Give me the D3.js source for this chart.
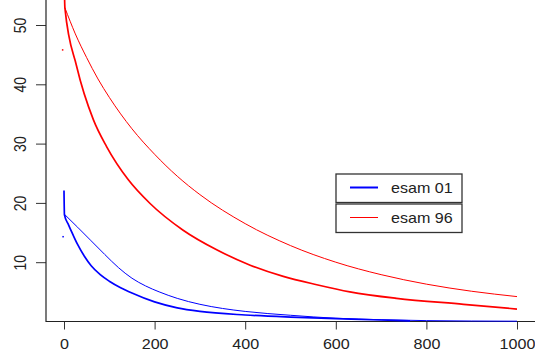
<!DOCTYPE html>
<html>
<head>
<meta charset="utf-8">
<script src="https://cdn.jsdelivr.net/npm/d3@7"></script>
<style>
  body { margin: 0; background: #fff; }
  text { font-family: "Liberation Sans", Arial, sans-serif; fill: #222; }
</style>
</head>
<body>
<div id="chart"></div>
<script>
// values
const xTicks = [0, 200, 400, 600, 800, 1000];
const yTicks = [10, 20, 30, 40, 50];

// esam 96 (red)
const redThickX = [0, 2, 28, 65, 94, 142, 190, 263, 337, 411, 484, 558, 631, 734, 882, 1000];
const redThickY = [60, 52.9, 43.0, 34.0, 29.5, 23.9, 19.9, 15.4, 12.1, 9.5, 7.6, 6.2, 5.0, 3.9, 2.9, 2.1];
const redThinX = [2, 25, 50, 75, 100, 150, 200, 250, 300, 400, 500, 600, 700, 800, 900, 1000];
const redThinY = [52.9, 48.5, 44.5, 40.9, 37.8, 32.5, 28.2, 24.5, 21.4, 16.5, 12.8, 10.0, 7.9, 6.3, 5.1, 4.2];

// esam 01 (blue)
const blueThickX = [0, 1, 10, 20, 30, 45, 60, 80, 100, 125, 150, 200, 250, 300, 400, 500, 600, 700, 764];
const blueThickY = [22.1, 18.0, 16.3, 14.6, 13.0, 11.0, 9.4, 7.9, 6.8, 5.7, 4.8, 3.3, 2.3, 1.7, 1.1, 0.75, 0.5, 0.25, 0.1];
const blueThinX = [2, 30, 60, 90, 120, 150, 180, 210, 250, 300, 350, 400, 500, 600, 700, 800, 1000];
const blueThinY = [18.0, 15.9, 13.6, 11.3, 9.1, 7.3, 6.0, 5.0, 3.9, 2.9, 2.2, 1.7, 1.05, 0.55, 0.3, 0.15, 0.05];

// stray single points near x = 0
const dotX = [-3, -2];
const dotY = [45.8, 14.3];
const dotColor = ["#ff0000", "#0000ff"];

const legendNames = ["esam 01", "esam 96"];
const legendColors = ["#0000ff", "#ff0000"];
const legendWidths = [2, 1];

const width = 535, height = 362;
const stretch = "scale(1.15,1)"; // text in the picture is a bit wide

const svg = d3.select("#chart").append("svg")
    .attr("width", width)
    .attr("height", height);

const x = d3.scaleLinear().domain([0, 1000]).range([64, 517]);
const y = d3.scaleLinear().domain([0, 50]).range([321.5, 25]);

// x axis ticks + labels
const gx = svg.append("g")
    .attr("transform", "translate(0,321.5)")
    .call(d3.axisBottom(x).tickValues(xTicks).tickSize(8).tickFormat(d3.format("d")));
gx.select(".domain").remove();
gx.selectAll("line").attr("stroke", "#333");
gx.selectAll("text")
    .attr("y", 0).attr("dy", 0)
    .attr("transform", "translate(0,27) " + stretch)
    .style("font-size", "14px");

// y axis ticks + rotated labels
const gy = svg.append("g")
    .attr("transform", "translate(46,0)")
    .call(d3.axisLeft(y).tickValues(yTicks).tickSize(10));
gy.select(".domain").remove();
gy.selectAll("line").attr("stroke", "#333");
gy.selectAll("text")
    .attr("x", 0).attr("dy", 0)
    .attr("text-anchor", "middle")
    .attr("transform", "translate(-20,0) " + stretch + " rotate(-90)")
    .style("font-size", "14px");

// frame lines (left + bottom)
svg.append("line").attr("x1", 46).attr("x2", 46).attr("y1", 0).attr("y2", 322)
    .attr("stroke", "#222").attr("stroke-width", 1.2);
svg.append("line").attr("x1", 46).attr("x2", 535).attr("y1", 321.5).attr("y2", 321.5)
    .attr("stroke", "#222").attr("stroke-width", 1.2);

// clip for the plot region
svg.append("clipPath").attr("id", "plotclip")
    .append("rect").attr("x", 46).attr("y", 0).attr("width", 489).attr("height", 322);

const plot = svg.append("g").attr("clip-path", "url(#plotclip)");

const line = d3.line()
    .x(d => x(d[0]))
    .y(d => y(d[1]))
    .curve(d3.curveMonotoneX);

function drawSeries(xs, ys, color, w) {
    plot.append("path")
        .datum(xs.map((v, i) => [v, ys[i]]))
        .attr("fill", "none")
        .attr("stroke", color)
        .attr("stroke-width", w)
        .attr("d", line);
}

drawSeries(blueThinX, blueThinY, "#0000ff", 1);
drawSeries(blueThickX, blueThickY, "#0000ff", 1.7);
drawSeries(redThinX, redThinY, "#ff0000", 1);
drawSeries(redThickX, redThickY, "#ff0000", 1.7);

plot.selectAll("rect.dot")
    .data(dotX)
    .enter()
    .append("rect")
    .attr("class", "dot")
    .attr("x", (d, i) => x(d) - 0.75)
    .attr("y", (d, i) => y(dotY[i]) - 0.75)
    .attr("width", 1.5)
    .attr("height", 1.5)
    .attr("fill", (d, i) => dotColor[i]);

// legend: two stacked boxes
const legend = svg.append("g").attr("transform", "translate(336,174)");
legendNames.forEach((name, i) => {
    const top = i * 30;
    legend.append("rect")
        .attr("x", 0).attr("y", top)
        .attr("width", 126).attr("height", 28.5)
        .attr("fill", "#fff")
        .attr("stroke", "#333")
        .attr("stroke-width", 1.3);
    legend.append("line")
        .attr("x1", 14).attr("x2", 42)
        .attr("y1", top + 13.5).attr("y2", top + 13.5)
        .attr("stroke", legendColors[i])
        .attr("stroke-width", legendWidths[i]);
    legend.append("text")
        .attr("transform", `translate(55,${top + 19}) ` + stretch)
        .style("font-size", "14px")
        .text(name);
});
</script>
</body>
</html>
